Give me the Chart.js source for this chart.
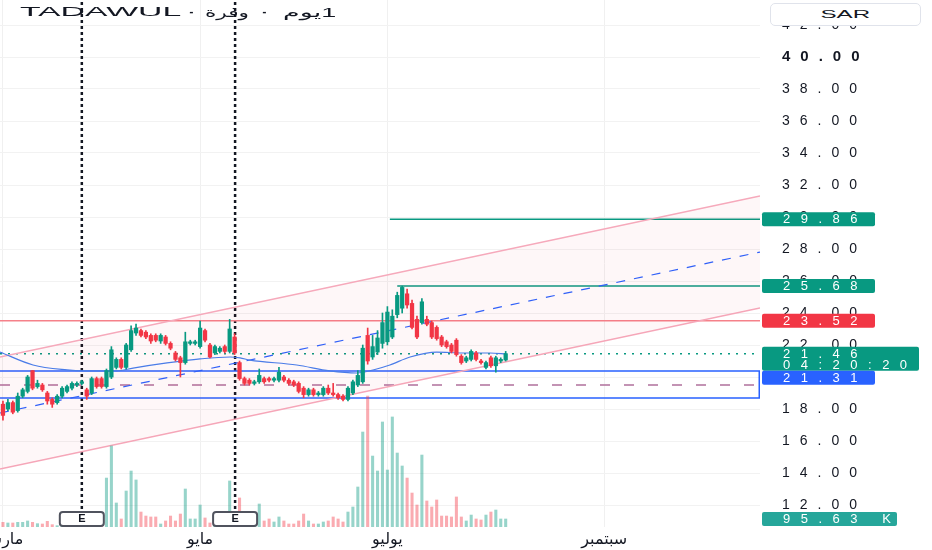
<!DOCTYPE html>
<html>
<head>
<meta charset="utf-8">
<script src="https://cdn.jsdelivr.net/npm/chart.js@4.4.1/dist/chart.umd.min.js"></script>
<style>
html,body{margin:0;padding:0;background:#fff;overflow:hidden;}
#box{position:relative;width:932px;height:550px;}
#title span{position:absolute;top:4px;font:13.5px "Liberation Sans","DejaVu Sans",sans-serif;color:#131722;white-space:nowrap;transform-origin:0 0;z-index:2;}
#cur{position:absolute;left:770px;top:3px;width:151px;height:23px;box-sizing:border-box;border:1px solid #e0e3eb;border-radius:5px;background:#fff;z-index:2;text-align:center;}
#cur span{display:inline-block;margin-top:3px;font:11px "Liberation Sans",sans-serif;color:#131722;transform:scaleX(2.2);}
</style>
</head>
<body>
<div id="box">
  <canvas id="c"></canvas>
  <div id="title">
    <span style="left:20px;transform:scaleX(2.5)">TADAWUL</span>
    <span style="left:186px;transform:scaleX(2.4)">&middot;</span>
    <span style="left:205px;transform:scaleX(1.6)">وفرة</span>
    <span style="left:259px;transform:scaleX(2.4)">&middot;</span>
    <span style="left:283px;transform:scaleX(2.0)">يوم&lrm;1</span>
  </div>
  <div id="cur"><span>SAR</span></div>
</div>
<script>
// daily candles (index 0 = first visible day in March)
var candleOpen = [18.3,18.0,18.4,17.9,18.8,19.1,20.4,19.4,19.5,19.0,18.6,18.4,18.8,19.1,19.3,19.5,19.6,19.2,19.0,19.9,19.9,19.4,20.0,20.6,21.1,20.6,21.7,22.75,22.9,22.8,22.6,22.6,22.25,22.5,22.1,21.5,21.2,20.9,22.1,22.1,21.9,22.9,22.0,21.5,21.6,21.9,21.6,22.5,
  20.9,19.9,19.8,19.6,19.7,19.9,19.9,19.8,19.8,20.0,19.8,19.7,19.6,19.3,18.9,19.2,18.9,18.9,19.3,19.0,18.9,18.8,18.6,19.0,19.5,19.7,22.6,21.25,21.56,22.1,22.2,22.5,23.9,24.3,25.2,24.6,23.6,23.4,23.6,23.4,23.1,22.5,22.2,22.0,22.3,21.3,21.0,21.1,21.5,21.0,20.6,21.2,20.7,21.0,21.06];
var candleHigh = [18.5,18.6,18.5,19.0,19.3,20.1,20.4,19.8,19.6,19.1,18.7,18.9,19.4,19.5,19.7,19.7,19.8,19.3,20.0,20.0,20.0,20.5,21.9,21.2,21.2,22.1,23.2,23.3,23.0,22.9,22.7,22.7,22.7,22.6,22.2,21.6,21.3,22.8,22.3,22.3,23.5,23.0,22.1,22.0,21.9,22.0,23.6,22.7,
  21.0,20.0,19.9,19.8,20.5,20.0,20.0,20.0,20.6,20.1,19.9,19.8,19.7,19.4,19.3,19.3,19.1,19.4,19.5,19.6,19.0,18.9,19.4,19.8,20.4,22.0,23.06,22.6,22.9,24.0,24.4,24.2,25.3,25.68,25.5,24.8,23.8,24.9,23.8,23.5,23.2,22.6,22.3,22.1,22.4,21.4,21.3,21.7,21.6,21.1,21.0,21.3,21.3,21.2,21.6];
var candleLow = [17.3,17.9,17.7,17.8,18.7,19.0,19.2,19.3,19.1,18.3,18.1,18.3,18.7,19.0,19.2,19.4,19.5,18.6,18.9,19.3,19.3,19.3,19.9,20.5,20.5,20.5,21.6,22.6,22.5,22.4,22.1,22.2,22.1,22.0,21.7,21.0,20.0,20.8,22.0,22.0,21.8,22.2,21.2,21.4,21.5,21.5,21.5,21.4,
  19.8,19.5,19.5,19.5,19.6,19.6,19.7,19.7,19.7,19.7,19.5,19.4,19.0,18.7,18.8,18.8,18.8,18.8,18.9,18.8,18.6,18.5,18.5,18.9,19.4,19.6,20.8,21.1,21.4,21.8,22.0,22.4,23.7,24.0,24.3,23.0,22.4,23.3,23.2,22.4,22.3,21.9,21.8,21.5,21.3,20.8,20.9,21.0,21.0,20.8,20.5,20.6,20.3,20.9,21.0];
var candleClose = [17.6,18.4,17.8,18.8,19.2,20.0,19.3,19.6,19.2,18.5,18.3,18.8,19.3,19.4,19.6,19.6,19.7,18.8,19.9,19.4,19.4,20.4,21.7,21.1,20.6,22.0,22.9,23.06,22.6,22.5,22.25,22.3,22.6,22.1,21.8,21.1,20.9,22.2,22.2,22.2,23.06,22.3,21.25,21.9,21.8,21.6,23.0,21.5,
  19.9,19.6,19.6,19.7,20.1,19.7,19.8,19.9,20.3,19.8,19.6,19.5,19.1,18.9,19.2,18.9,19.0,19.3,19.0,18.9,18.7,18.6,19.3,19.7,20.1,21.8,21.0,21.9,22.44,23.4,24.06,23.8,25.1,25.6,24.5,23.1,22.5,24.7,23.3,22.5,22.4,22.0,21.9,21.6,21.4,20.9,21.2,21.6,21.1,20.9,20.9,20.7,21.2,21.1,21.46];
// volume in thousands
var volumeK = [56,48,48,56,56,72,56,40,36,68,28,16,20,18,22,20,18,24,22,20,18,
  585,968,287,96,430,669,562,179,131,120,120,36,72,131,72,155,454,96,96,263,108,48,36,36,36,550,40,
  347,60,60,60,275,72,96,60,120,72,36,36,72,155,72,36,36,60,72,120,96,60,179,239,478,1135,1565,848,669,1255,681,1315,884,729,585,406,263,860,311,239,323,131,131,120,359,120,72,143,96,84,143,179,203,96,95.63];
// moving average, sampled points (day index, price)
var maDay = [-0.6,6.1,13,16.2,23.1,26.4,33.3,40,46.1,48.1,50.1,59.6,66.3,71.8,75.1,78.5,82.6,88,93.3,98.8,102.2];
var maValue = [21.56,20.75,20.44,20.38,20.38,20.56,20.88,21.13,21.25,21.19,21.06,20.75,20.38,20.25,20.44,20.75,21.25,21.56,21.5,21.5,21.44];

var monthDay = [0, 40, 78, 122];
var monthNames = ['مارس', 'مايو', 'يوليو', 'سبتمبر'];
var earningsDay = [16, 47.1];
var priceTicks = [12,14,16,18,20,22,24,26,28,30,32,34,36,38,40,42];

// drawings
var channelDay = [-0.6, 153.6];
var channelUpper = [21.25, 31.31];
var channelMid = [17.75, 27.81];
var channelLower = [14.25, 24.31];
var resistance = 23.52;
var lastPrice = 21.46;
var zoneTop = 20.375, zoneBottom = 18.69;
var dashedLevel = 19.5;
var target1 = 29.86, target1Day = 78.5;
var target2 = 25.68, target2Day = 80;
var badgeValues = [29.86, 25.68, 23.52, 21.46, 21.31];
var countdown = '04:20:20';
var volumeLabel = '95.63 K';

var xMin = -0.6, xMax = 153.6, yMin = 10.625, yMax = 43.5625, volMax = 6298;
var UP = '#089981', DOWN = '#f23645';

function seg(xs, ys, style) {
  return Object.assign({
    type: 'line',
    data: xs.map(function (x, i) { return { x: x, y: ys[i] }; }),
    pointRadius: 0, fill: false, yAxisID: 'y', order: 10, borderWidth: 1.5
  }, style);
}
function isUp(i) { return candleClose[i] >= candleOpen[i]; }
function noPad(s) { s.paddingTop = 0; s.paddingBottom = 0; s.paddingLeft = 0; s.paddingRight = 0; }
var days = candleOpen.map(function (_, i) { return i; });

var datasets = [
  seg(channelDay, channelUpper, { borderColor: '#f6a9bb', fill: '+1', backgroundColor: 'rgba(242,54,69,0.04)' }),
  seg(channelDay, channelLower, { borderColor: '#f6a9bb' }),
  seg(channelDay, channelMid, { borderColor: '#2962ff', borderWidth: 1.2, borderDash: [9, 9] }),
  seg([xMin, xMax], [resistance, resistance], { borderColor: '#f5818a' }),
  seg([xMin, xMax], [lastPrice, lastPrice], { borderColor: '#089981', borderDash: [2, 6] }),
  seg([xMin, xMax - 0.15, xMax - 0.15, xMin], [zoneTop, zoneTop, zoneBottom, zoneBottom], { borderColor: '#2962ff' }),
  seg([xMin, xMax], [dashedLevel, dashedLevel], { borderColor: '#b0709c', borderDash: [10, 14] }),
  seg([target1Day, xMax], [target1, target1], { borderColor: '#089981' }),
  seg([target2Day, xMax], [target2, target2], { borderColor: '#089981' }),
  seg(maDay, maValue, { borderColor: '#4a7ce8', borderWidth: 1.2, cubicInterpolationMode: 'monotone', order: 3 }),
  seg([earningsDay[0], earningsDay[0]], [yMin, yMax], { borderColor: '#131722', borderWidth: 2.5, borderDash: [3, 3] }),
  seg([earningsDay[1], earningsDay[1]], [yMin, yMax], { borderColor: '#131722', borderWidth: 2.5, borderDash: [3, 3] }),
  {
    type: 'bar', yAxisID: 'yv', order: 5, grouped: false, barThickness: 2.4,
    data: days.map(function (i) { return { x: i, y: volumeK[i] }; }),
    backgroundColor: function (c) { return isUp(c.dataIndex) ? 'rgba(8,153,129,0.42)' : 'rgba(242,54,69,0.42)'; }
  },
  {
    type: 'bar', yAxisID: 'y', order: 2, grouped: false, barThickness: 1,
    data: days.map(function (i) { return { x: i, y: [candleLow[i], candleHigh[i]] }; }),
    backgroundColor: function (c) { return isUp(c.dataIndex) ? UP : DOWN; }
  },
  {
    type: 'bar', yAxisID: 'y', order: 1, grouped: false, barThickness: 3.6, minBarLength: 1.5,
    data: days.map(function (i) { return { x: i, y: [candleOpen[i], candleClose[i]] }; }),
    backgroundColor: function (c) { return isUp(c.dataIndex) ? UP : DOWN; }
  }
];

var overlay = {
  id: 'overlay',
  beforeDraw: function (chart) { chart.ctx.letterSpacing = '0px'; },
  afterDatasetsDraw: function (chart) {
    var ctx = chart.ctx, xs = chart.scales.x, b = chart.chartArea.bottom;
    earningsDay.forEach(function (d) {
      var x = xs.getPixelForValue(d);
      ctx.save();
      ctx.beginPath();
      ctx.roundRect(x - 22, b - 15, 44, 14, 3);
      ctx.fillStyle = '#fff'; ctx.fill();
      ctx.lineWidth = 2; ctx.strokeStyle = '#50535e'; ctx.stroke();
      ctx.fillStyle = '#131722'; ctx.font = 'bold 11px "Liberation Sans"';
      ctx.textAlign = 'center'; ctx.textBaseline = 'middle';
      ctx.fillText('E', x, b - 8);
      ctx.restore();
    });
    ctx.letterSpacing = '10px';
  },
  afterDraw: function (chart) {
    var ctx = chart.ctx, ys = chart.scales.y, yv = chart.scales.yv;
    var left = chart.chartArea.right + 2;
    ctx.save();
    ctx.letterSpacing = '10.5px';
    ctx.font = '13px "Liberation Sans"';
    ctx.textBaseline = 'middle';
    ctx.textAlign = 'left';
    function badge(top, h, w, color, lines) {
      ctx.fillStyle = color;
      ctx.beginPath(); ctx.roundRect(left, top, w, h, 2); ctx.fill();
      ctx.fillStyle = '#fff';
      lines.forEach(function (t, k) { ctx.fillText(t, left + 21, top + 7.5 + k * 11); });
    }
    var colors = [UP, UP, DOWN, UP, '#2962ff'];
    var bottom = 0;
    badgeValues.forEach(function (v, k) {
      var y = ys.getPixelForValue(v);
      var top = Math.max(y - 7, bottom);
      if (k === 3) { badge(top, 24, 157, colors[k], [v.toFixed(2), countdown]); bottom = top + 24; }
      else { badge(top, 14, 113, colors[k], [v.toFixed(2)]); bottom = top + 14; }
    });
    var vy = yv.getPixelForValue(volumeK[volumeK.length - 1]);
    badge(vy - 7, 14, 135, '#26a69a', [volumeLabel]);
    ctx.restore();
    ctx.letterSpacing = '0px';
  }
};

new Chart(document.getElementById('c'), {
  type: 'bar',
  data: { datasets: datasets },
  plugins: [overlay],
  options: {
    responsive: true, maintainAspectRatio: false, animation: false, events: [],
    layout: { padding: 0, autoPadding: false },
    plugins: { legend: { display: false }, tooltip: { enabled: false } },
    scales: {
      x: {
        type: 'linear', position: 'bottom', min: xMin, max: xMax, offset: false,
        grid: { color: '#f0f0f0', drawTicks: false, offset: false },
        border: { display: false },
        afterBuildTicks: function (s) { s.ticks = monthDay.map(function (v) { return { value: v }; }); },
        afterFit: function (s) { s.height = 23; noPad(s); },
        ticks: {
          padding: 3, maxRotation: 0, autoSkip: false, color: '#131722',
          font: { family: 'DejaVu Sans', size: 16 },
          callback: function (v) { return monthNames[monthDay.indexOf(v)]; }
        }
      },
      y: {
        type: 'linear', position: 'right', min: yMin, max: yMax,
        grid: { color: '#f2f2f2', drawTicks: false },
        border: { display: false },
        afterBuildTicks: function (s) { s.ticks = priceTicks.map(function (v) { return { value: v }; }); },
        afterFit: function (s) { s.width = 172; noPad(s); },
        ticks: {
          z: 1, padding: 22, color: '#131722',
          font: function (c) { return c.tick && c.tick.value === 40 ? { family: 'Liberation Sans', size: 15, weight: 'bold' } : { family: 'Liberation Sans', size: 14 }; },
          callback: function (v) { return v.toFixed(2); }
        }
      },
      yv: { display: false, min: 0, max: volMax }
    }
  }
});
</script>
</body>
</html>
